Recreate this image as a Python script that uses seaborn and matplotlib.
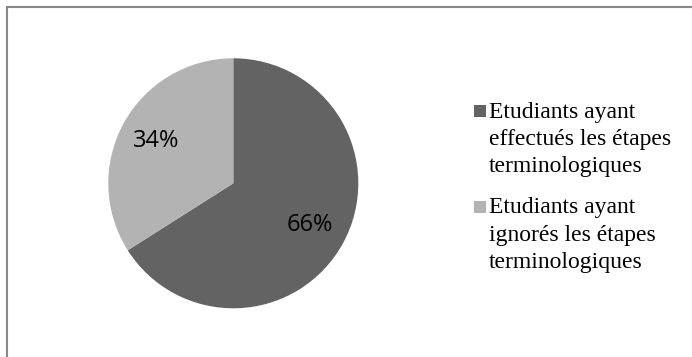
import matplotlib
matplotlib.use("Agg")
import matplotlib.pyplot as plt
import seaborn as sns
from matplotlib.lines import Line2D
from matplotlib.patches import Rectangle

# ---- data ----
categories = [
    "Etudiants ayant\neffectués les étapes\nterminologiques",
    "Etudiants ayant\nignorés les étapes\nterminologiques",
]
values = [66, 34]
colors = ["#636363", "#b3b3b3"]

sns.set_theme(style="white")
plt.rcParams["font.family"] = ["Open Sans", "DejaVu Sans"]

W, H = 692, 357
fig = plt.figure(figsize=(W / 100, H / 100), dpi=100)
fig.patch.set_facecolor("white")

# pie axes: center (233, 183) px, radius 125 px
cx, cy, r = 233.3, 183.3, 125
ax = fig.add_axes([(cx - r) / W, (H - cy - r) / H, 2 * r / W, 2 * r / H])
wedges, texts, autotexts = ax.pie(
    values,
    colors=colors,
    startangle=90,
    counterclock=False,
    autopct=lambda p: f"{p:.0f}%",
    pctdistance=0.70,
    wedgeprops=dict(linewidth=0),
    textprops=dict(fontsize=17, color="#000000", family=["Open Sans", "DejaVu Sans"]),
)
ax.set_xlim(-1, 1)
ax.set_ylim(-1, 1)
ax.set_aspect("equal")
ax.axis("off")

# legend drawn manually (squares + serif text, one line at a time)
first_baselines = [117.5, 213]
line_step = 27.5
for lab, col, yb in zip(categories, colors, first_baselines):
    fig.add_artist(Rectangle((474 / W, (H - yb + 0.5) / H), 12 / W, 12 / H,
                             transform=fig.transFigure, facecolor=col,
                             edgecolor="none"))
    for i, line in enumerate(lab.split("\n")):
        y = yb + i * line_step
        fig.text(489 / W, (H - y) / H, line, ha="left", va="baseline",
                 fontsize=17, family=["Liberation Serif", "DejaVu Serif"],
                 color="#000000")

# chart border (only top & left visible, cropped at right/bottom)
bc = "#888888"
fig.add_artist(Line2D([6.5 / W, 1.0], [1 - 6.5 / H, 1 - 6.5 / H],
                      transform=fig.transFigure, color=bc, lw=1.5))
fig.add_artist(Line2D([6.5 / W, 6.5 / W], [0, 1 - 6.5 / H],
                      transform=fig.transFigure, color=bc, lw=1.5))

fig.savefig("out.png", dpi=100)
